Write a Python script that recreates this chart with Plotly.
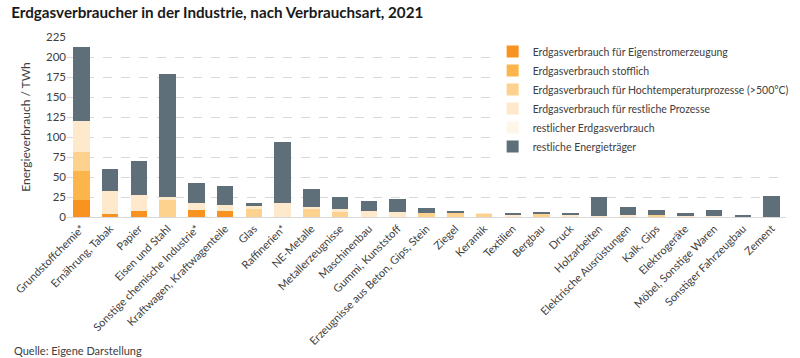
import plotly.graph_objects as go

categories = [
    "Grundstoffchemie*", "Ernährung, Tabak", "Papier", "Eisen und Stahl",
    "Sonstige chemische Industrie*", "Kraftwagen, Kraftwagenteile", "Glas",
    "Raffinerien*", "NE-Metalle", "Metallerzeugnisse", "Maschinenbau",
    "Gummi, Kunststoff", "Erzeugnisse aus Beton, Gips, Stein", "Ziegel",
    "Keramik", "Textilien", "Bergbau", "Druck", "Holzarbeiten",
    "Elektrische Ausrüstungen", "Kalk, Gips", "Elektrogeräte",
    "Möbel, Sonstige Waren", "Sonstiger Fahrzeugbau", "Zement",
]

eigenstrom = [21, 3.5, 8, 0, 9, 7, 0, 0, 0, 0, 0, 0, 0, 0, 0, 0, 1.2, 0, 0, 0, 0, 0, 0, 0, 0]
stofflich = [36.5, 0, 0, 0, 0, 0, 0, 0, 0, 0, 0, 0, 0, 0, 0, 0, 0, 0, 0, 0, 0, 0, 0, 0, 0]
hochtemp = [23.5, 0, 0, 21.5, 0, 0, 10, 0, 11, 6, 0, 0, 5, 5.5, 4.5, 0, 2.2, 0, 0, 0, 3, 0, 0, 0, 0]
restl_prozesse = [39, 29, 20, 3, 8, 7.5, 3.5, 17, 1.5, 4, 7.5, 6, 0.5, 0, 0.5, 3.3, 0, 2.5, 1, 2, 0, 1, 1, 0.5, 0]
restl_erdgas = [0] * 25
energietraeger = [93, 27, 41.5, 154.5, 26, 24, 4.5, 76.5, 22, 15.5, 12.5, 17, 5.5, 0.8, 0, 2, 3.2, 2, 24, 10, 5.5, 4.5, 8, 2.3, 26.5]

series = [
    ("Erdgasverbrauch für Eigenstromerzeugung", eigenstrom, "#F7931E"),
    ("Erdgasverbrauch stofflich", stofflich, "#FCB54A"),
    ("Erdgasverbrauch für Hochtemperaturprozesse (>500°C)", hochtemp, "#FDD28E"),
    ("Erdgasverbrauch für restliche Prozesse", restl_prozesse, "#FEE9CC"),
    ("restlicher Erdgasverbrauch", restl_erdgas, "#FFF6EA"),
    ("restliche Energieträger", energietraeger, "#5F6F79"),
]

FONT = "Lato"
fig = go.Figure()
for name, vals, col in series:
    fig.add_trace(go.Bar(x=categories, y=vals, name=name, marker_color=col,
                         marker_line_width=0))

fig.update_layout(
    width=800, height=358,
    barmode="stack", bargap=0.425,
    plot_bgcolor="white", paper_bgcolor="white",
    margin=dict(l=67, r=6.5, t=36.7, b=141.3),
    font=dict(family=FONT, color="#404040", size=11),
    title=dict(text="<b>Erdgasverbraucher in der Industrie, nach Verbrauchsart, 2021</b>",
               x=0.014, xanchor="left", y=0.965, yanchor="middle",
               font=dict(family=FONT, size=15.2, color="#1a1a1a")),
    legend=dict(x=0.592, xanchor="left", y=1.0, yanchor="top",
                traceorder="normal", bgcolor="white",
                font=dict(family=FONT, size=10.5, color="#404040"),
                itemwidth=30),
    showlegend=True,
)
fig.update_yaxes(range=[0, 225], dtick=25, showgrid=True, gridcolor="#D9D9D9",
                 griddash="dash", gridwidth=1, zeroline=False,
                 tickfont=dict(size=11.5, color="#404040"),
                 title=dict(text="Energieverbrauch / TWh", font=dict(size=12, color="#404040"),
                            standoff=12),
                 ticks="", showline=False)
fig.update_xaxes(tickangle=-45, tickfont=dict(size=11, color="#404040"),
                 showline=True, linecolor="#D9D9D9", ticks="", range=[-0.5, 24.5])
fig.add_annotation(text="Quelle: Eigene Darstellung", xref="paper", yref="paper",
                   x=-0.077, y=-0.74, xanchor="left", yanchor="middle", showarrow=False,
                   font=dict(family=FONT, size=11, color="#404040"))

fig.write_html("out.html", config={"displayModeBar": False},
               post_script="document.body.style.margin='0';")
